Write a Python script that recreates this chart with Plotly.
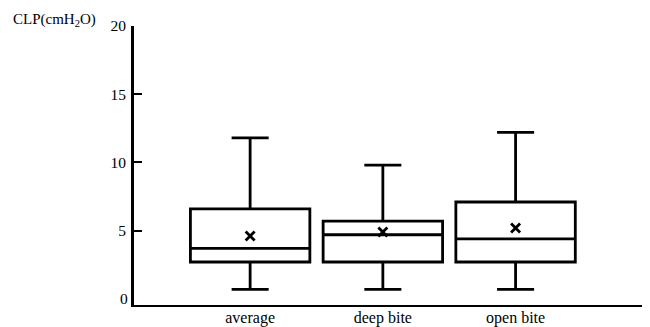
import plotly.graph_objects as go

categories = ["average", "deep bite", "open bite"]
lower_whisker = [0.7, 0.7, 0.7]
q1 = [2.7, 2.7, 2.7]
median = [3.7, 4.7, 4.4]
q3 = [6.6, 5.7, 7.1]
upper_whisker = [11.8, 9.8, 12.2]
means = [4.6, 4.9, 5.2]
y_ticks = [0, 5, 10, 15, 20]

font = "Liberation Serif, Times New Roman, serif"

# the page body has an 8px default margin; the figure is sized to fit inside it
fig = go.Figure()
fig.add_trace(go.Box(
    x=categories, q1=q1, median=median, q3=q3,
    lowerfence=lower_whisker, upperfence=upper_whisker,
    fillcolor="white", line=dict(color="black", width=2.8),
    width=0.9, whiskerwidth=0.31, boxpoints=False, showlegend=False,
))
fig.add_trace(go.Scatter(
    x=categories, y=means, mode="markers",
    marker=dict(symbol="x-thin", size=9, line=dict(color="black", width=2.8)),
    showlegend=False,
))

fig.update_layout(
    width=642, height=319,
    margin=dict(l=126, r=7, t=18, b=22, autoexpand=False),
    paper_bgcolor="white", plot_bgcolor="white",
    font=dict(family=font, size=15, color="black"),
    xaxis=dict(
        range=[-0.875, 2.96], showline=True, linecolor="black", linewidth=1.6,
        ticks="", showgrid=False, zeroline=False, automargin=False,
        tickfont=dict(family=font, size=16, color="black"), ticklabelstandoff=-3,
    ),
    yaxis=dict(
        range=[-0.45, 20], showline=True, linecolor="black", linewidth=3,
        tickvals=y_ticks[1:], ticks="inside", ticklen=8, tickwidth=2, tickcolor="black",
        showgrid=False, zeroline=False, automargin=False, ticklabelstandoff=2,
        tickfont=dict(family=font, size=15.5, color="black"),
    ),
    annotations=[
        dict(
            text="CLP(cmH<sub>2</sub>O)", xref="paper", yref="paper",
            x=0, y=1, xanchor="right", yanchor="middle", showarrow=False,
            xshift=-36, yshift=6,
            font=dict(family=font, size=15, color="black"),
        ),
        dict(
            text=str(y_ticks[0]), xref="paper", yref="y",
            x=0, y=y_ticks[0], xanchor="right", yanchor="middle", showarrow=False,
            xshift=-4, font=dict(family=font, size=15.5, color="black"),
        ),
    ],
)

fig.write_html("out.html")
